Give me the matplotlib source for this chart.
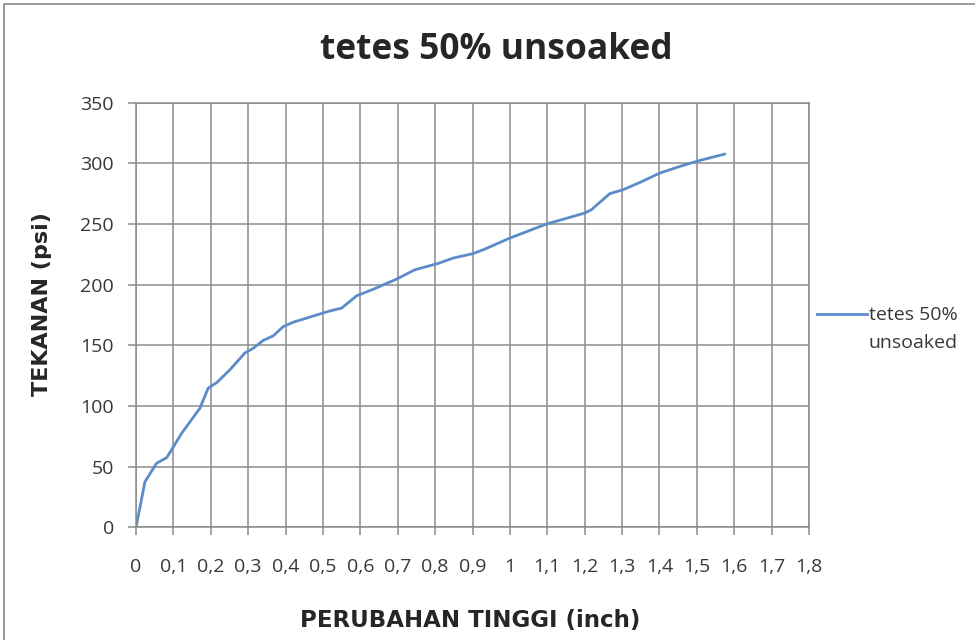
import matplotlib
matplotlib.use("Agg")
import matplotlib.pyplot as plt
from matplotlib.ticker import FixedLocator, FuncFormatter
from matplotlib.patches import Rectangle
from matplotlib.lines import Line2D

title = "tetes 50% unsoaked"
series_name = "tetes 50%\nunsoaked"
x_label = "PERUBAHAN TINGGI (inch)"
y_label = "TEKANAN (psi)"

# change in height (inch)
x_vals = [0.0, 0.024, 0.055, 0.082, 0.095, 0.122, 0.171, 0.193, 0.216, 0.251,
          0.291, 0.314, 0.340, 0.367, 0.394, 0.421, 0.465, 0.519, 0.550, 0.590,
          0.635, 0.697, 0.746, 0.808, 0.848, 0.900, 0.929, 1.000, 1.098, 1.200,
          1.218, 1.267, 1.303, 1.348, 1.401, 1.455, 1.508, 1.575]
# pressure (psi)
y_vals = [0.0, 37.6, 52.8, 57.4, 63.8, 77.5, 98.2, 114.7, 119.3, 129.8,
          143.6, 147.7, 154.0, 157.8, 165.5, 169.1, 173.3, 178.4, 180.7, 190.8,
          196.3, 204.6, 212.3, 217.5, 221.9, 225.5, 228.8, 238.4, 250.0, 259.0,
          261.8, 275.0, 278.3, 284.3, 292.0, 297.5, 302.4, 307.7]

x_ticks = [i / 10 for i in range(0, 19)]
y_ticks = list(range(0, 351, 50))

LINE_COLOR = "#5b8bc9"
TEXT_COLOR = "#383838"

fig = plt.figure(figsize=(9.75, 6.4), dpi=100)
fig.patch.set_facecolor("white")
fig.patches.append(Rectangle((4 / 975, -0.1), 1.2, 1 - 4 / 640 + 0.1, transform=fig.transFigure,
                             fill=False, edgecolor="#8a8a8a", linewidth=1.2))

ax = fig.add_axes([136 / 975, 1 - 527.3 / 640, (809 - 136) / 975, (527.3 - 102.7) / 640])
ax.set_xlim(0, 1.8)
ax.set_ylim(0, 350)
ax.xaxis.set_major_locator(FixedLocator(x_ticks))
ax.yaxis.set_major_locator(FixedLocator(y_ticks))


def fmt_x(v, pos):
    s = f"{v:.1f}"
    if s.endswith(".0"):
        s = s[:-2]
    return s.replace(".", ",")


ax.xaxis.set_major_formatter(FuncFormatter(fmt_x))
ax.yaxis.set_major_formatter(FuncFormatter(lambda v, p: f"{int(v)}"))

ax.grid(True, color="#8c8c8c", linewidth=1.1)
ax.set_axisbelow(True)
for s in ax.spines.values():
    s.set_color("#8c8c8c")
    s.set_linewidth(1.1)

ax.tick_params(axis="both", direction="out", length=6, width=1.1, color="#8c8c8c",
               labelsize=14, labelcolor=TEXT_COLOR)
ax.tick_params(axis="x", pad=16)
ax.tick_params(axis="y", pad=10)
for lab in ax.get_xticklabels() + ax.get_yticklabels():
    lab.set_family("Open Sans")

ax.plot(x_vals, y_vals, color=LINE_COLOR, linewidth=2.0,
        solid_joinstyle="round", solid_capstyle="round")

fig.text(496 / 975, 1 - 50 / 640, title, ha="center", va="center", fontsize=25.5,
         fontweight="bold", family="Open Sans", color="#262626")
fig.text(470 / 975, 1 - 620 / 640, x_label, ha="center", va="center", fontsize=16.5,
         fontweight="bold", family="DejaVu Sans", color="#262626")
fig.text(42 / 975, 1 - 304 / 640, y_label, ha="center", va="center", rotation=90,
         fontsize=16, fontweight="bold", family="DejaVu Sans", color="#262626")

# legend (series key)
fig.add_artist(Line2D([817 / 975, 867 / 975], [1 - 314 / 640, 1 - 314 / 640],
                      transform=fig.transFigure, color=LINE_COLOR, linewidth=2.0))
fig.text(869 / 975, 1 - 306 / 640, series_name, ha="left", va="top", fontsize=14,
         family="Open Sans", color=TEXT_COLOR, linespacing=1.75)

fig.savefig("out.png", dpi=100, facecolor="white")
